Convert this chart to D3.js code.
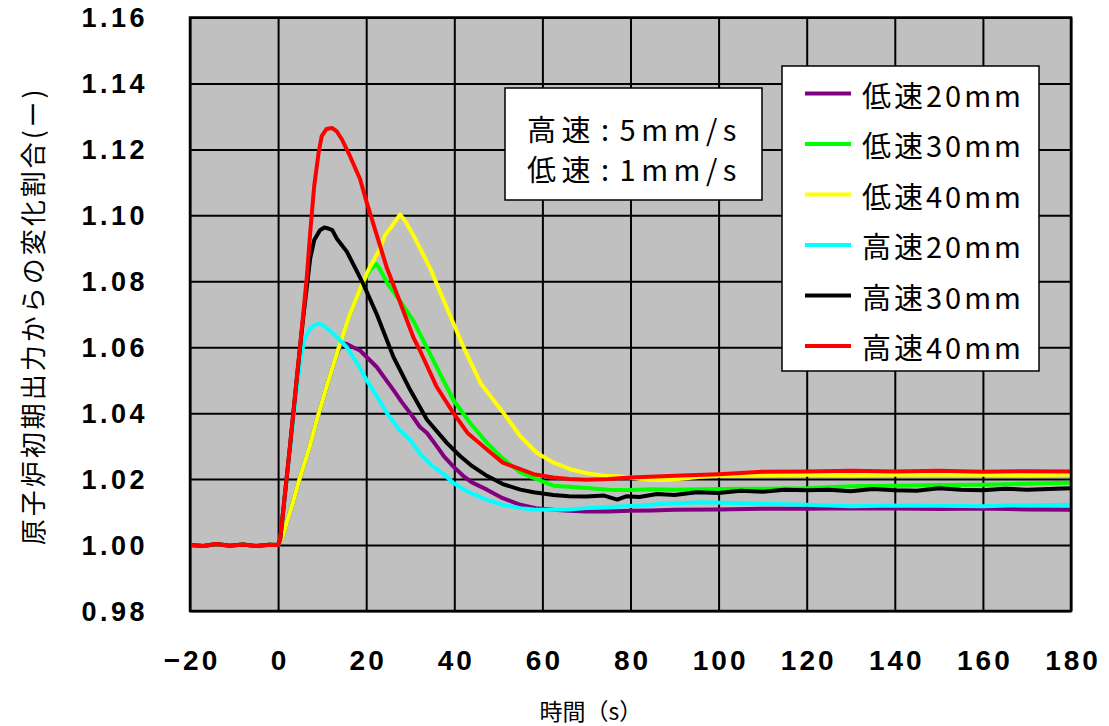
<!DOCTYPE html>
<html><head><meta charset="utf-8">
<script src="https://cdn.jsdelivr.net/npm/d3@7"></script>
<style>body{margin:0;background:#fff}svg{display:block}</style>
</head><body>
<svg id="c" width="1109" height="726"></svg>
<script>
// ---- data ----
const xTicks = [-20, 0, 20, 40, 60, 80, 100, 120, 140, 160, 180];
const yTicks = [0.98, 1.00, 1.02, 1.04, 1.06, 1.08, 1.10, 1.12, 1.14, 1.16];
const seriesNames = ["低速20mm", "低速30mm", "低速40mm", "高速20mm", "高速30mm", "高速40mm"];
const seriesColors = ["#800080", "#00ff00", "#ffff00", "#00ffff", "#000000", "#ff0000"];
const noteHeads = ["高速", "低速"];
const noteValues = ["5mm/s", "1mm/s"];
const xTitle = "時間（s）";
const yTitle = "原子炉初期出力からの変化割合(ー)";

const preZero = [[-20,1.000],[-17,0.9997],[-14,1.0003],[-11,0.9998],[-8,1.0002],[-5,0.9997],[-2,1.0001],[0,1.000]];

const low20 = [[1,1.0025],[2,1.007],[3.5,1.0135],[5,1.0207],[7,1.029],[8.8,1.038],[11,1.048],[13.3,1.058],[14.5,1.0612],[15.6,1.0610],[17,1.0600],[18.6,1.059],[20.5,1.0565],[22.4,1.054],[24,1.051],[26.2,1.047],[28,1.0435],[30,1.040],[32.2,1.0358],[33.8,1.034],[36,1.030],[37.6,1.027],[39.8,1.0238],[42,1.021],[44,1.019],[47.4,1.0168],[51,1.0142],[55,1.0122],[58.5,1.0112],[62.5,1.0107],[66,1.0104],[70,1.0102],[75,1.0102],[80,1.0104],[85,1.0105],[90,1.0107],[100,1.0108],[110,1.011],[120,1.011],[130,1.0112],[140,1.0111],[150,1.0109],[160,1.0111],[170,1.0108],[180,1.0107]];

const low30 = [[1,1.0025],[2,1.007],[3.5,1.0135],[5,1.0207],[7,1.029],[8.8,1.038],[11,1.048],[13.3,1.058],[16.3,1.070],[19,1.079],[20.9,1.0835],[22.4,1.0852],[23.2,1.0834],[25,1.079],[27.7,1.074],[30.7,1.068],[34.5,1.058],[37.5,1.050],[39.8,1.044],[43.6,1.037],[47.4,1.031],[51.2,1.026],[55,1.022],[58.7,1.020],[62.5,1.018],[66,1.0177],[70,1.0173],[75,1.0168],[80,1.0167],[85,1.0169],[90,1.0168],[100,1.017],[110,1.0171],[120,1.0172],[130,1.0178],[140,1.018],[150,1.0182],[160,1.0183],[170,1.0186],[180,1.0189]];

const low40 = [[1,1.0025],[2,1.007],[3.5,1.0135],[5,1.0207],[7,1.029],[8.8,1.038],[11,1.048],[13.3,1.058],[16.3,1.070],[19,1.079],[20.9,1.0845],[22.8,1.089],[24.3,1.094],[26,1.097],[27.7,1.1003],[29,1.098],[30.7,1.094],[34.5,1.084],[38.3,1.072],[42.1,1.060],[46,1.049],[51.2,1.040],[55,1.033],[58.7,1.028],[62.5,1.025],[66.3,1.023],[70,1.0218],[73.8,1.021],[77.6,1.0208],[80,1.0205],[84,1.0198],[88,1.0197],[92,1.0202],[96,1.0207],[100,1.021],[110,1.0212],[120,1.0213],[130,1.0212],[140,1.0214],[150,1.0213],[160,1.0213],[170,1.0212],[180,1.0214]];

const high20 = [[0.5,1.002],[2.7,1.029],[4.2,1.047],[5.2,1.057],[6,1.0625],[7,1.065],[8,1.0665],[9.2,1.0672],[10.5,1.0665],[12.6,1.064],[15.6,1.060],[18,1.055],[20.1,1.050],[22.5,1.045],[24.7,1.040],[27.5,1.035],[30,1.0318],[32.2,1.0278],[35,1.024],[37.6,1.0215],[39.8,1.0188],[43,1.0162],[47.4,1.0137],[51,1.0122],[55,1.0112],[58,1.0108],[62.5,1.0107],[66,1.0108],[70,1.0112],[74,1.0115],[77.6,1.0117],[82,1.012],[86,1.0124],[90,1.0127],[96,1.013],[102,1.0128],[110,1.0125],[120,1.0122],[130,1.0118],[140,1.012],[150,1.0119],[160,1.0118],[170,1.0121],[180,1.0122]];

const high30 = [[0.5,1.002],[2.7,1.030],[4.2,1.050],[5.7,1.069],[6.5,1.078],[7.3,1.087],[8.2,1.0925],[9.5,1.0955],[10.5,1.0963],[11.4,1.096],[12.3,1.0955],[13.3,1.093],[15.6,1.089],[17.9,1.083],[19.4,1.079],[22.4,1.070],[26.2,1.057],[30,1.047],[33.8,1.038],[38.3,1.031],[41.3,1.027],[44,1.024],[47.4,1.021],[51,1.0185],[55,1.0168],[58,1.016],[62.5,1.0152],[66,1.0148],[70,1.0147],[74,1.015],[77,1.0138],[79,1.0148],[82,1.0146],[86,1.0155],[90,1.0152],[95,1.016],[100,1.0158],[105,1.0165],[110,1.0162],[115,1.0168],[120,1.0166],[125,1.0168],[130,1.0163],[135,1.017],[140,1.0166],[145,1.0165],[150,1.0172],[155,1.0168],[160,1.0166],[165,1.0171],[170,1.0168],[175,1.017],[180,1.0172]];

const high40 = [[0.5,1.002],[2.7,1.030],[4.2,1.050],[5.7,1.070],[6.5,1.081],[7.3,1.095],[8.2,1.109],[9.2,1.119],[9.9,1.124],[11,1.1262],[12.2,1.1265],[13.3,1.1255],[14.5,1.123],[16.3,1.118],[18.6,1.111],[20.1,1.104],[22.4,1.094],[24.7,1.084],[27.3,1.075],[30.7,1.063],[32.2,1.059],[36,1.048],[39.8,1.040],[43,1.034],[47.4,1.029],[51,1.025],[55,1.023],[58,1.0215],[62.5,1.0205],[66,1.020],[70,1.0198],[75,1.0200],[80,1.0205],[90,1.021],[100,1.0215],[110,1.0222],[120,1.0223],[130,1.0225],[140,1.0223],[150,1.0225],[160,1.0222],[170,1.0224],[180,1.0223]];

const seriesData = [low20, low30, low40, high20, high30, high40];

// ---- drawing ----
const svg = d3.select("#c");
const x = d3.scaleLinear().domain([-20, 180]).range([190, 1071]);
const y = d3.scaleLinear().domain([0.98, 1.16]).range([611, 17.5]);

svg.append("rect").attr("x", 190).attr("y", 17.5).attr("width", 881).attr("height", 593.5)
  .attr("fill", "#c0c0c0");

// gridlines via axes
svg.append("g").attr("transform", "translate(0,611)")
  .call(d3.axisBottom(x).tickValues(xTicks).tickSize(-593.5).tickFormat(""))
  .call(g => g.select(".domain").remove())
  .call(g => g.selectAll("line").attr("stroke", "#000").attr("stroke-width", 2));
svg.append("g").attr("transform", "translate(190,0)")
  .call(d3.axisLeft(y).tickValues(yTicks).tickSize(-881).tickFormat(""))
  .call(g => g.select(".domain").remove())
  .call(g => g.selectAll("line").attr("stroke", "#000").attr("stroke-width", 2));

// tick labels
const fmtX = d3.format("d");
svg.append("g").selectAll("text").data(xTicks).join("text")
  .attr("x", d => x(d) + 2).attr("y", 670)
  .attr("text-anchor", "middle")
  .attr("font-family", "'Liberation Sans', Arial, sans-serif")
  .attr("font-weight", "bold").attr("font-size", 28).attr("letter-spacing", 3)
  .text(d => fmtX(d));
svg.append("g").selectAll("text").data(yTicks).join("text")
  .attr("x", 148).attr("y", d => y(d) + 9.5)
  .attr("text-anchor", "end")
  .attr("font-family", "'Liberation Sans', Arial, sans-serif")
  .attr("font-weight", "bold").attr("font-size", 27).attr("letter-spacing", 3.5)
  .text(d => d.toFixed(2));

// series
const line = d3.line().x(d => x(d[0])).y(d => y(d[1]));
seriesData.forEach((s, i) => {
  svg.append("path").datum(preZero.concat(s))
    .attr("fill", "none").attr("stroke", seriesColors[i])
    .attr("stroke-width", 4).attr("stroke-linejoin", "round")
    .attr("d", line);
});

// plot border
svg.append("rect").attr("x", 190).attr("y", 17.5).attr("width", 881).attr("height", 593.5)
  .attr("fill", "none").attr("stroke", "#000").attr("stroke-width", 2.5);

// note box
const cjk = "'Noto Sans CJK JP', 'Noto Sans', sans-serif";
svg.append("rect").attr("x", 505).attr("y", 88).attr("width", 257).attr("height", 112)
  .attr("fill", "#fff").attr("stroke", "#000").attr("stroke-width", 1.5);
const nt = svg.append("g").selectAll("text").data(noteHeads).join("text")
  .attr("x", 527).attr("y", (d, i) => 128 + i * 40)
  .attr("dominant-baseline", "central")
  .attr("font-family", cjk).attr("font-size", 29).attr("letter-spacing", 5.5);
nt.append("tspan").text(d => d);
nt.append("tspan").attr("dx", 5).text(":");
nt.append("tspan").attr("dx", 5).text((d, i) => noteValues[i]);

// legend
svg.append("rect").attr("x", 782).attr("y", 66).attr("width", 257).attr("height", 305)
  .attr("fill", "#fff").attr("stroke", "#000").attr("stroke-width", 1.5);
const lg = svg.append("g").selectAll("g").data(seriesNames).join("g")
  .attr("transform", (d, i) => `translate(0,${93.5 + i * 50.5})`);
lg.append("line").attr("x1", 805).attr("x2", 851).attr("y1", 0).attr("y2", 0)
  .attr("stroke", (d, i) => seriesColors[i]).attr("stroke-width", 4);
lg.append("text").attr("x", 862).attr("y", 0).attr("dominant-baseline", "central")
  .attr("font-family", cjk).attr("font-size", 29).attr("letter-spacing", 3)
  .text(d => d);

// axis titles
svg.append("text").attr("x", 591).attr("y", 710)
  .attr("text-anchor", "middle").attr("dominant-baseline", "central")
  .attr("font-family", cjk).attr("font-size", 23).text(xTitle);
svg.append("text").attr("transform", "translate(31,316) rotate(-90)")
  .attr("text-anchor", "middle").attr("dominant-baseline", "central")
  .attr("font-family", cjk).attr("font-size", 26).attr("letter-spacing", 3).text(yTitle);
</script>
</body></html>
